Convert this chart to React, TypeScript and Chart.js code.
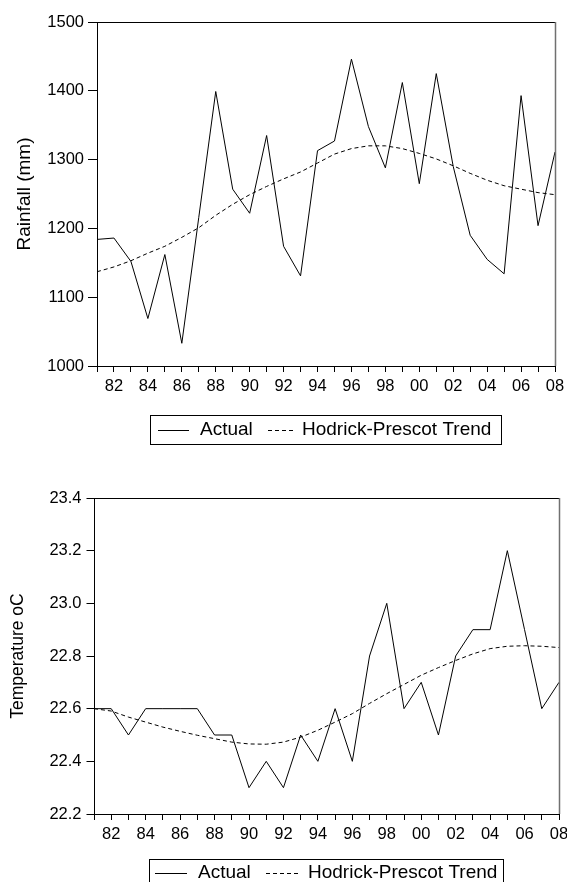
import React, { useEffect, useRef } from 'react';
import { Chart, registerables } from 'chart.js';

Chart.register(...registerables);

const years = ['81', '82', '83', '84', '85', '86', '87', '88', '89', '90', '91', '92', '93', '94', '95', '96', '97', '98', '99', '00', '01', '02', '03', '04', '05', '06', '07', '08'];

const rainActual = [1184, 1186, 1152, 1069, 1162, 1033, 1216, 1399, 1257, 1222, 1335, 1174, 1131, 1313, 1327, 1446, 1348, 1288, 1412, 1265, 1425, 1290, 1190, 1155, 1134, 1393, 1204, 1311];
const rainTrend = [1137, 1144, 1153, 1164, 1174, 1187, 1201, 1219, 1235, 1249, 1261, 1272, 1282, 1295, 1308, 1316, 1320, 1320, 1316, 1309, 1301, 1291, 1280, 1270, 1262, 1257, 1252, 1249];

const tempActual = [22.6, 22.6, 22.5, 22.6, 22.6, 22.6, 22.6, 22.5, 22.5, 22.3, 22.4, 22.3, 22.5, 22.4, 22.6, 22.4, 22.8, 23.0, 22.6, 22.7, 22.5, 22.8, 22.9, 22.9, 23.2, 22.9, 22.6, 22.7];
const tempTrend = [22.6, 22.591, 22.568, 22.549, 22.53, 22.514, 22.499, 22.486, 22.473, 22.466, 22.465, 22.473, 22.492, 22.518, 22.549, 22.581, 22.62, 22.657, 22.692, 22.727, 22.756, 22.783, 22.808, 22.828, 22.837, 22.839, 22.837, 22.832];

const seriesNames = ['Actual', 'Hodrick-Prescot Trend'];
const rainTitle = 'Rainfall (mm)';
const tempTitle = 'Temperature oC';

const FAMILY = '"Liberation Sans", Arial, Helvetica, sans-serif';
const DASH = [4, 3];

const framePlugin = {
  id: 'frame',
  afterDraw(chart: any) {
    const { ctx, chartArea: a } = chart;
    ctx.save();
    ctx.lineWidth = 1;
    ctx.strokeStyle = '#000';
    ctx.beginPath();
    ctx.moveTo(a.left, Math.round(a.top) + 0.5);
    ctx.lineTo(a.right, Math.round(a.top) + 0.5);
    ctx.stroke();
    ctx.strokeStyle = '#707070';
    ctx.lineWidth = 1.5;
    ctx.beginPath();
    ctx.moveTo(Math.round(a.right) + 0.5, a.top);
    ctx.lineTo(Math.round(a.right) + 0.5, a.bottom);
    ctx.stroke();
    ctx.restore();
  },
};

const boxLegendPlugin = {
  id: 'boxLegend',
  afterDraw(chart: any, _args: any, opts: any) {
    if (!opts || !opts.box) return;
    const { ctx } = chart;
    const b = opts.box;
    ctx.save();
    ctx.lineWidth = 1;
    ctx.strokeStyle = '#000';
    ctx.strokeRect(b.x + 0.5, b.y + 0.5, b.w, b.h);
    ctx.font = `${opts.fontSize}px ${FAMILY}`;
    ctx.fillStyle = '#000';
    ctx.textBaseline = 'middle';
    ctx.textAlign = 'left';
    const ds = chart.data.datasets;
    opts.items.forEach((it: any, i: number) => {
      ctx.beginPath();
      ctx.setLineDash(ds[i].borderDash || []);
      ctx.moveTo(it.x1, Math.round(opts.cy) + 0.5);
      ctx.lineTo(it.x2, Math.round(opts.cy) + 0.5);
      ctx.stroke();
      ctx.setLineDash([]);
      ctx.fillText(ds[i].label, it.tx, opts.cy);
    });
    ctx.restore();
  },
};

function makeConfig(p: any) {
  return {
    type: 'line',
    data: {
      labels: years,
      datasets: [
        { label: seriesNames[0], data: p.actual, borderColor: '#000', borderWidth: 1, pointRadius: 0, tension: 0, fill: false },
        { label: seriesNames[1], data: p.trend, borderColor: '#000', borderWidth: 1, borderDash: DASH, pointRadius: 0, tension: 0, fill: false },
      ],
    },
    options: {
      animation: false,
      responsive: false,
      devicePixelRatio: 1,
      events: [],
      layout: { padding: { left: 0, top: p.padTop, right: p.padRight, bottom: p.padBottom } },
      plugins: {
        legend: { display: false },
        tooltip: { enabled: false },
        boxLegend: p.legend,
      },
      scales: {
        x: {
          type: 'category',
          offset: false,
          grid: { drawOnChartArea: false, drawTicks: true, tickLength: 6, color: '#000', offset: false },
          border: { display: true, color: '#000', width: 1 },
          ticks: {
            autoSkip: false,
            maxRotation: 0,
            minRotation: 0,
            padding: 4.5,
            color: '#000',
            font: { family: FAMILY, size: 16.5 },
            callback: (_v: any, i: number) => (i % 2 === 1 ? years[i] : ''),
          },
          afterFit: (s: any) => { s.height = 40; },
        },
        y: {
          min: p.min,
          max: p.max,
          ticks: {
            stepSize: p.step,
            padding: p.yPad,
            color: '#000',
            font: { family: FAMILY, size: 16.5 },
            callback: p.fmt,
          },
          grid: { drawOnChartArea: false, drawTicks: true, tickLength: p.yTick, color: '#000' },
          border: { display: true, color: '#000', width: 1 },
          title: {
            display: true,
            text: p.title,
            color: '#000',
            font: { family: FAMILY, size: p.titleSize },
            padding: { top: p.titlePad, bottom: 0 },
          },
          afterFit: (s: any) => { s.width = p.yWidth; },
        },
      },
    },
    plugins: [framePlugin, boxLegendPlugin],
  };
}

export default function App() {
  const ref1 = useRef<HTMLCanvasElement>(null);
  const ref2 = useRef<HTMLCanvasElement>(null);

  useEffect(() => {
    const c1 = new Chart(ref1.current as any, makeConfig({
      actual: rainActual,
      trend: rainTrend,
      min: 1000, max: 1500, step: 100,
      fmt: (v: any) => String(Math.round(v)),
      title: rainTitle, titleSize: 19, titlePad: 13.5,
      yWidth: 97, yTick: 9, yPad: 4,
      padTop: 22, padRight: 25, padBottom: 44,
      legend: {
        box: { x: 150, y: 415, w: 351, h: 29 },
        cy: 430,
        fontSize: 19,
        items: [{ x1: 158, x2: 189, tx: 200 }, { x1: 268, x2: 294, tx: 302 }],
      },
    }) as any);
    const c2 = new Chart(ref2.current as any, makeConfig({
      actual: tempActual,
      trend: tempTrend,
      min: 22.2, max: 23.4, step: 0.2,
      fmt: (v: any) => Number(v).toFixed(1),
      title: tempTitle, titleSize: 17.5, titlePad: 7.5,
      yWidth: 94, yTick: 7.5, yPad: 5,
      padTop: 48, padRight: 21, padBottom: 28,
      legend: {
        box: { x: 149, y: 409, w: 354, h: 29 },
        cy: 423,
        fontSize: 19,
        items: [{ x1: 155, x2: 187, tx: 198 }, { x1: 266, x2: 299, tx: 308 }],
      },
    }) as any);
    return () => { c1.destroy(); c2.destroy(); };
  }, []);

  return (
    <div style={{ position: 'absolute', left: 0, top: 0, width: 567, height: 882, overflow: 'hidden', background: '#fff' }}>
      <canvas ref={ref1} width={580} height={450} style={{ position: 'absolute', left: 0, top: 0, width: 580, height: 450 }} />
      <canvas ref={ref2} width={580} height={432} style={{ position: 'absolute', left: 0, top: 450, width: 580, height: 432 }} />
    </div>
  );
}
